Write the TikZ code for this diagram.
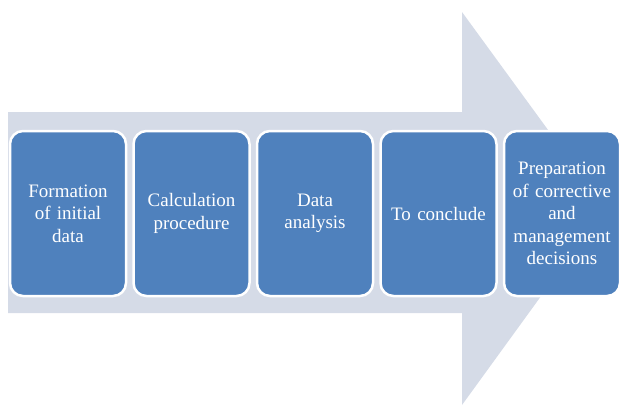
\documentclass[tikz,border=0pt]{standalone}
\usepackage{fontspec}
\newfontfamily\stepfont{Liberation Serif}
\definecolor{arrowgrey}{RGB}{213,219,231}
\definecolor{boxblue}{RGB}{79,129,189}
\begin{document}
\begin{tikzpicture}[x=1pt,y=-1pt,
  stepbox/.style={draw=white, line width=2.5pt, fill=boxblue, rounded corners=13pt,
    minimum width=116pt, minimum height=165pt, text width=114pt, align=center,
    inner sep=0pt, text=white, font=\stepfont\fontsize{19}{22.5}\selectfont}]
\useasboundingbox (0,0) rectangle (622,413);
\fill[arrowgrey] (8,112) -- (462,112) -- (462,12) -- (605,208) -- (462,405) -- (462,313) -- (8,313) -- cycle;
\node[stepbox] (s1) at (68,213.5) {Formation\\of initial\\data};
\node[stepbox] (s2) at (191.5,213.5) {Calculation\\procedure};
\node[stepbox] (s3) at (315,213.5) {Data\\analysis};
\node[stepbox] (s4) at (438.5,213.5) {To conclude};
\node[stepbox] (s5) at (562,213.5) {Preparation\\of corrective\\and\\management\\decisions};
\end{tikzpicture}
\end{document}
